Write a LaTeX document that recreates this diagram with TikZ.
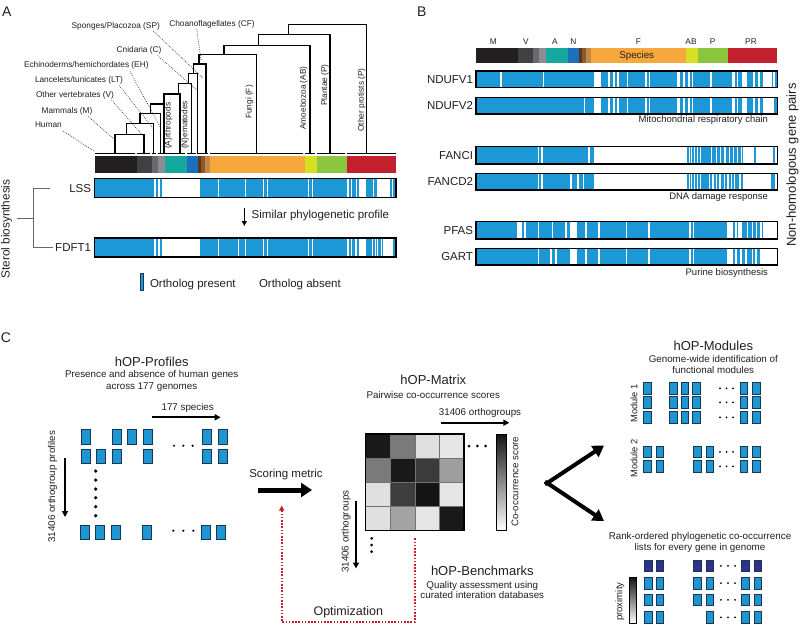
\documentclass[tikz,border=0pt]{standalone}
\usepackage{fontspec}
\setmainfont{Liberation Sans}
\usetikzlibrary{arrows.meta}
\definecolor{pblue}{RGB}{28,152,214}
\definecolor{sqblue}{RGB}{30,150,210}
\definecolor{sqedge}{RGB}{25,55,85}
\definecolor{dkblue}{RGB}{45,50,140}
\definecolor{txt}{RGB}{35,31,32}
\definecolor{optred}{RGB}{200,30,45}
\definecolor{cM}{RGB}{35,31,32}
\definecolor{cV}{RGB}{65,65,67}
\definecolor{cLT}{RGB}{105,105,110}
\definecolor{cEH}{RGB}{140,140,148}
\definecolor{cA}{RGB}{20,168,158}
\definecolor{cN}{RGB}{28,110,190}
\definecolor{cC}{RGB}{90,55,25}
\definecolor{cSP}{RGB}{140,90,40}
\definecolor{cCF}{RGB}{195,135,75}
\definecolor{cF}{RGB}{247,168,60}
\definecolor{cAB}{RGB}{215,223,35}
\definecolor{cP}{RGB}{140,198,63}
\definecolor{cPR}{RGB}{195,32,45}
\newcommand{\speciesbar}[3]{%
  \foreach \a/\b/\colr in {0/42/cM,42/57/cV,57/63/cLT,63/70/cEH,70/92/cA,92/103/cN,103/106/cC,106/110/cSP,110/115/cCF,115/210/cF,210/222/cAB,222/252/cP,252/301/cPR}
    {\fill[\colr] ({#1+\a},#2) rectangle ({#1+\b},#3);}
}
\newcommand{\profbar}[6]{%
  \fill[pblue] ({#1+#2/3},#4) rectangle ({#1+#3/3},#5);
  \foreach \a/\b in {#6} {\fill[white] ({#1+\a/3},#4) rectangle ({#1+\b/3},#5);}
  \draw[barframe] ({#1+#2/3},#4) rectangle ({#1+#3/3},#5);
}
\newcommand{\bsq}[3][sqbox]{\draw[#1] (#2,#3) rectangle ++(9,14.5);}
\newcommand{\msq}[3][sqbox]{\draw[#1] (#2,#3) rectangle ++(7.5,11.5);}
\newcommand{\threedots}[4]{\foreach \i in {0,1,2} {\fill ({#1+\i*#3},#2) circle (#4);}}
\begin{document}
\begin{tikzpicture}[x=1pt,y=-1pt,
  every node/.style={inner sep=0pt, outer sep=0pt, text=txt},
  panel/.style={font=\fontsize{14}{16}\selectfont},
  tlab/.style={font=\fontsize{8.3}{10}\selectfont},
  gene/.style={font=\fontsize{11.5}{13}\selectfont, anchor=east},
  capt/.style={font=\fontsize{9.5}{11}\selectfont, anchor=east},
  ttl/.style={font=\fontsize{13}{15}\selectfont},
  subt/.style={font=\fontsize{9.8}{11}\selectfont, align=center},
  leader/.style={dash pattern=on 0.7pt off 1.3pt, line width=0.65pt, draw=txt},
  treeline/.style={line width=1.5pt, line join=miter, line cap=rect},
  barframe/.style={line width=1.3pt, draw=black},
  sqbox/.style={fill=sqblue, draw=sqedge, line width=0.6pt},
  dkbox/.style={fill=dkblue, draw=sqedge, line width=0.6pt},
  arr/.style={line width=1.8pt, -{Triangle[length=6pt,width=6pt]}},
  bigarr/.style={line width=5pt, -{Triangle[length=11pt,width=14pt]}}]
\useasboundingbox (0,0) rectangle (800,625);
\fill[white] (0,0) rectangle (800,625);

% ---------------- Panel A ----------------
\node[panel, anchor=west] (lblA) at (2,12) {A};
% tree
\draw[treeline] (115,153.5) |- (144,134.3) -- (144,153.5);
\draw[treeline] (126.7,134.3) |- (153.3,123.3) -- (153.3,153.5);
\draw[treeline] (140,123.3) |- (160.7,113.3) -- (160.7,153.5);
\draw[treeline] (150.7,113.3) |- (164,104) -- (164,153.5);
\draw[treeline] (164,104) |- (180,94) -- (180,153.5);
\draw[treeline] (178.3,94) |- (191.7,83.3) -- (191.7,153.5);
\draw[treeline] (188.3,83.3) |- (197.7,73.3) -- (197.7,153.5);
\draw[treeline] (193.3,73.3) |- (206,64) -- (206,153.5);
\draw[treeline] (199,64) |- (256.7,54.5) -- (256.7,153.5);
\draw[treeline] (224,54.5) |- (310,45.3) -- (310,153.5);
\draw[treeline] (258.3,45.3) |- (330,34.3) -- (330,153.5);
\draw[treeline] (288.3,34.3) |- (366.7,24.3) -- (366.7,153.5);
\foreach \a/\b in {95/135.3,136.8/150.3,151.8/156.3,157.8/163.3,164.8/185.3,186.8/196.3,197.8/208.3,209.8/303.3,304.8/315.3,316.8/345.3,346.8/396}
  {\draw[line width=1.2pt] (\a,153.5) -- (\b,153.5);}
% clade labels
\node[tlab, anchor=west] (tHuman) at (35,125) {Human};
\node[tlab, anchor=west] (tM) at (41.7,111.7) {Mammals (M)};
\node[tlab, anchor=west] (tV) at (36,95) {Other vertebrates (V)};
\node[tlab, anchor=west] (tLT) at (35,80) {Lancelets/tunicates (LT)};
\node[tlab, anchor=west] (tEH) at (24,65.7) {Echinoderms/hemichordates (EH)};
\node[tlab, anchor=west] (tC) at (116.7,50.7) {Cnidaria (C)};
\node[tlab, anchor=west] (tSP) at (71.7,26.7) {Sponges/Placozoa (SP)};
\node[tlab, anchor=west] (tCF) at (169.3,24) {Choanoflagellates (CF)};
\coordinate (eHuman) at (95,151.7);
\coordinate (eM) at (115,140);
\coordinate (eV) at (144,137);
\coordinate (eLT) at (153.3,128.5);
\coordinate (eEH) at (160.7,128);
\coordinate (eC) at (196.7,90);
\coordinate (eSP) at (203,78);
\coordinate (eCF) at (201,60);
\draw[leader] (63,131) -- (eHuman);
\draw[leader] (88.3,116.5) -- (eM);
\draw[leader] (111.7,100) -- (eV);
\draw[leader] (119.3,85.5) -- (eLT);
\draw[leader] (130,71.5) -- (eEH);
\draw[leader] (157.5,55.5) -- (eC);
\draw[leader] (153.3,31) -- (eSP);
\draw[leader] (196.7,29.5) -- (eCF);
\node[tlab, rotate=90] (tA) at (168.6,125.8) {(A)rthropods};
\node[tlab, rotate=90] (tN) at (185.2,125) {(N)ematodes};
\node[tlab, rotate=90] (tF) at (249.5,102) {Fungi (F)};
\node[tlab, rotate=90] (tAB) at (303.8,98) {Amoebozoa (AB)};
\node[tlab, rotate=90] (tP) at (325,85) {Plantae (P)};
\node[tlab, rotate=90] (tPR) at (361.6,100) {Other protists (P)};
% species colour bar
\speciesbar{95}{155.7}{172.7}
% profiles
\profbar{90}{13}{918}{178.5}{197.5}{192/199, 204/209, 216/330, 383/386, 465/468, 520/523, 530/533, 655/658, 665/668, 772/778, 784/787, 797/802, 808/828, 850/853, 862/900, 906/910}
\profbar{90}{13}{918}{238}{257}{192/199, 204/209, 216/330, 383/386, 443/446, 465/468, 520/523, 530/533, 655/658, 665/668, 772/776, 782/786, 795/800, 808/828, 845/848, 855/858, 862/865, 872/875, 878/908}
\node[gene] (LSS) at (91,188.3) {LSS};
\node[gene] (FDFT1) at (91,248) {FDFT1};
\draw[line width=1.5pt, draw=black!60] (50,188.3) -- (33.3,188.3) -- (33.3,247.5) -- (53.3,247.5);
\draw[line width=1.5pt, draw=black!60] (16.7,218.3) -- (33.3,218.3);
\node[rotate=90, font=\fontsize{11.8}{13}\selectfont] (sterol) at (6.5,229) {Sterol biosynthesis};
\coordinate (simA) at (244.3,207.5);
\coordinate (simB) at (244.3,226);
\draw[line width=1.3pt, -{Triangle[length=5pt,width=5pt]}] (simA) -- (simB);
\node[anchor=west, font=\fontsize{11.5}{13}\selectfont] (simtxt) at (251.7,215.7) {Similar phylogenetic profile};
\fill[pblue, draw=sqedge, line width=0.5pt] (140,273) rectangle (143.5,290);
\node[anchor=west, font=\fontsize{11.5}{13}\selectfont] (present) at (150,284.5) {Ortholog present};
\node[anchor=west, font=\fontsize{11.5}{13}\selectfont] (absent) at (259,284.5) {Ortholog absent};

% ---------------- Panel B ----------------
\node[panel, anchor=west] (lblB) at (417,12) {B};
\foreach \t/\x in {M/493.3,V/526,A/555,N/573.3,F/638.3,AB/691,P/712.7,PR/751}
  {\node[tlab] at (\x,41.7) {\t};}
\speciesbar{476}{48.3}{62.7}
\node[font=\fontsize{9.8}{11}\selectfont] (species) at (636.7,55.6) {Species};
\profbar{470}{18}{922}{71}{87.7}{90/96, 218/223, 372/392, 415/420, 430/435, 442/447, 470/475, 525/530, 537/540, 620/630, 640/645, 655/660, 667/670, 720/726, 785/795, 800/805, 815/830, 850/855, 865/870, 878/905, 910/915}
\profbar{470}{18}{922}{97.7}{114}{342/346, 372/392, 415/420, 430/435, 442/447, 470/475, 525/530, 537/540, 620/630, 640/645, 655/660, 667/670, 720/726, 785/795, 800/805, 815/830, 850/855, 865/870, 878/912}
\profbar{470}{18}{922}{146.7}{164}{203/207, 213/220, 355/360, 372/650, 656/659, 664/667, 672/675, 681/684, 690/693, 722/727, 738/741, 750/754, 762/767, 777/781, 788/792, 800/804, 812/816, 820/852, 858/908, 915/922}
\profbar{470}{18}{922}{173.3}{190}{203/207, 213/220, 300/305, 322/328, 338/343, 372/650, 656/659, 664/667, 672/675, 681/684, 690/693, 716/720, 727/731, 738/741, 748/752, 762/766, 772/776, 783/787, 792/796, 806/812, 820/903, 915/922}
\profbar{470}{18}{922}{221.7}{239}{140/155, 162/167, 203/208, 245/250, 285/290, 300/320, 345/350, 385/390, 468/472, 535/540, 658/662, 668/673, 770/790, 795/800, 805/815, 830/835, 845/850, 858/862, 870/875, 880/922}
\profbar{470}{18}{922}{248.3}{265}{203/208, 240/245, 255/260, 300/320, 345/350, 385/390, 468/472, 535/540, 658/662, 668/673, 770/790, 795/800, 810/815, 825/830, 845/848, 855/860, 870/922}
\node[gene] (NDUFV1) at (473,79.3) {NDUFV1};
\node[gene] (NDUFV2) at (473,105.8) {NDUFV2};
\node[gene] (FANCI) at (473,155.3) {FANCI};
\node[gene] (FANCD2) at (473,181.7) {FANCD2};
\node[gene] (PFAS) at (473,230.3) {PFAS};
\node[gene] (GART) at (473,256.7) {GART};
\node[capt] (mito) at (768,120.5) {Mitochondrial respiratory chain};
\node[capt] (dna) at (768,196.7) {DNA damage response};
\node[capt] (purine) at (768,272.7) {Purine biosynthesis};
\node[rotate=90, font=\fontsize{13}{15}\selectfont] (nonhom) at (792.5,165) {Non-homologous gene pairs};

% ---------------- Panel C ----------------
\node[panel, anchor=west] (lblC) at (1,338) {C};
% hOP-Profiles
\node[ttl] (profT) at (151.7,361.7) {hOP-Profiles};
\node[subt, font=\fontsize{9.8}{11.7}\selectfont] (profS) at (151.7,380.8) {Presence and absence of human genes\\across 177 genomes};
\node[font=\fontsize{9.8}{11}\selectfont] (sp177) at (187.7,408.3) {177 species};
\coordinate (spA) at (151.7,417.3);
\coordinate (spB) at (220.7,417.3);
\draw[arr] (spA) -- (spB);
\foreach \x in {81,112,127.7,143.3,202.7,218} {\bsq{\x}{429.3}}
\foreach \x in {81,96.7,112,143.3,202.7,218} {\bsq{\x}{449}}
\foreach \x in {80,95.7,111,142,201,216} {\bsq{\x}{525}}
\threedots{174}{445.7}{9.3}{1.2}
\threedots{173.3}{530.7}{10}{1.2}
\foreach \y in {471,480,489,497.7,506.7,515.7} {\fill (95.7,\y) circle (1.8);}
\coordinate (ogA) at (65,458.3);
\coordinate (ogB) at (65,517);
\draw[arr] (ogA) -- (ogB);
\node[rotate=90, font=\fontsize{9.8}{11}\selectfont] (ogprof) at (52.7,486.7) {31406 orthogroup profiles};
% scoring
\node[font=\fontsize{11.5}{13}\selectfont] (scoring) at (286,474.3) {Scoring metric};
\coordinate (scA) at (257.7,490);
\coordinate (scB) at (312,490);
\draw[bigarr] (scA) -- (scB);
% hOP-Matrix
\node[ttl] (matT) at (433.3,380) {hOP-Matrix};
\node[subt] (matS) at (433.3,395) {Pairwise co-occurrence scores};
\node[font=\fontsize{9.8}{11}\selectfont] (og1) at (480,412.7) {31406 orthogroups};
\coordinate (mA) at (441,422.7);
\coordinate (mB) at (509.3,422.7);
\draw[arr] (mA) -- (mB);
\foreach \i/\j/\g in {0/0/90,1/0/52,2/0/12,3/0/10, 0/1/52,1/1/90,2/1/77,3/1/38, 0/2/12,1/2/76,2/2/92,3/2/10, 0/3/12,1/3/36,2/3/10,3/3/90}
  {\fill[black!\g] ({365.7+\i*24.6},{434+\j*24.2}) rectangle ++(24.6,24.2);}
\foreach \i in {1,2,3} {
  \draw[black!55, line width=0.6pt] ({365.7+\i*24.6},434) -- ({365.7+\i*24.6},530.7);
  \draw[black!55, line width=0.6pt] (365.7,{434+\i*24.2}) -- (464,{434+\i*24.2});
}
\draw[line width=1.5pt] (365.7,434) rectangle (464,530.7);
\threedots{469}{446}{8.3}{1.5}
\foreach \y in {538.3,545,551.7} {\fill (371.7,\y) circle (1.5);}
\coordinate (mvA) at (356,500.7);
\coordinate (mvB) at (356,568.5);
\draw[arr] (mvA) -- (mvB);
\node[rotate=90, font=\fontsize{9.8}{11}\selectfont] (og2) at (346,531.7) {31406 orthogroups};
\shade[top color=black!92, bottom color=white] (496,434) rectangle (506,530.7);
\draw[line width=0.8pt] (496,434) rectangle (506,530.7);
\node[rotate=90, font=\fontsize{9.7}{11}\selectfont] (cooc) at (515,481.7) {Co-occurrence score};
% benchmarks
\node[ttl] (benT) at (482.3,571) {hOP-Benchmarks};
\node[subt, font=\fontsize{9.8}{10.3}\selectfont] (benS) at (482.3,590) {Quality assessment using\\curated interation databases};
\coordinate (rA) at (415,538.3);
\coordinate (rB) at (415,621.7);
\coordinate (rC) at (281.7,621.7);
\coordinate (rD) at (281.7,505.5);
\draw[optred, line width=2pt, dash pattern=on 1.6pt off 1.6pt, -{Triangle[length=5pt,width=5pt]}] (rA) -- (rB) -- (rC) -- (rD);
\node[font=\fontsize{12.5}{14}\selectfont] (optim) at (348.3,612.7) {Optimization};
% arrows to the right
\coordinate (bA1) at (545,484.5);
\coordinate (bA2) at (604,445.5);
\coordinate (bB1) at (545,481.5);
\coordinate (bB2) at (604,521);
\draw[line width=4pt, -{Triangle[length=11pt,width=13pt]}] (bA1) -- (bA2);
\draw[line width=4pt, -{Triangle[length=11pt,width=13pt]}] (bB1) -- (bB2);
% hOP-Modules
\node[ttl] (modT) at (713.3,346) {hOP-Modules};
\node[subt, font=\fontsize{9.8}{10.8}\selectfont] (modS) at (713.3,364.7) {Genome-wide identification of\\functional modules};
\foreach \y in {382.7,396.7,411.7} {
  \foreach \x in {643.3,669.3,681,692.7,740,752.7} {\msq{\x}{\y}}
  \threedots{720}{\y+5.75}{6.5}{1}
}
\foreach \y in {446,460.7} {
  \foreach \x in {643.3,656,693.3,706,740,752.7} {\msq{\x}{\y}}
  \threedots{720}{\y+5.75}{6.5}{1}
}
\node[rotate=90, font=\fontsize{9.3}{11}\selectfont] (mod1) at (634,403.3) {Module 1};
\node[rotate=90, font=\fontsize{9.3}{11}\selectfont] (mod2) at (634,458.3) {Module 2};
% rank-ordered lists
\node[subt] (rankS) at (700,542.8) {Rank-ordered phylogenetic co-occurrence\\lists for every gene in genome};
\foreach \x in {644.3,656,693.3,706,741.7,754} {\msq[dkbox]{\x}{560}}
\foreach \y in {577.3,594} {
  \foreach \x in {644.3,656,693.3,706,741.7,754} {\msq{\x}{\y}}
}
\foreach \x in {644.3,656,706,741.7,754} {\msq{\x}{611.7}}
\foreach \y in {560,577.3,594,611.7} {\threedots{721}{\y+5.75}{7}{1}}
\shade[top color=black!92, bottom color=white] (629.3,577.7) rectangle (636,623.3);
\draw[line width=0.6pt] (629.3,577.7) rectangle (636,623.3);
\node[rotate=90, font=\fontsize{9.6}{11}\selectfont] (prox) at (620,601.7) {proximity};
\end{tikzpicture}
\end{document}
